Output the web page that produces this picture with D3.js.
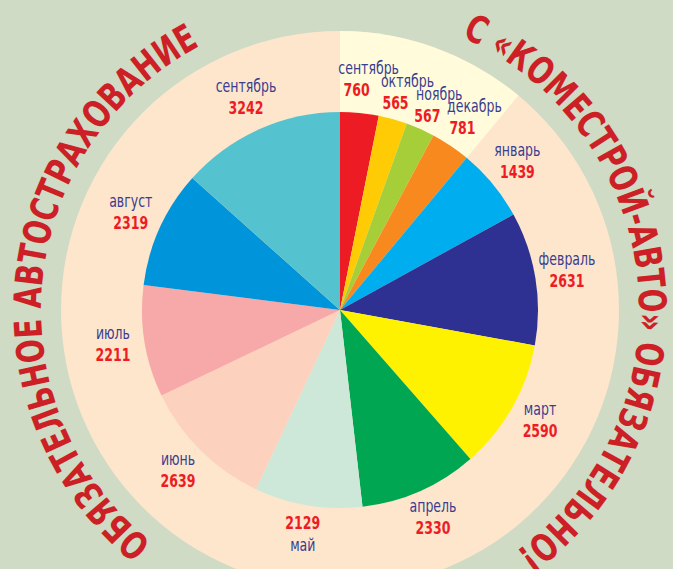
<!DOCTYPE html>
<html>
<head>
<meta charset="utf-8">
<script src="https://cdn.jsdelivr.net/npm/d3@7"></script>
<style>
  body { margin: 0; background: #cfdbc4; }
  svg { display: block; }
  .name { font-family: "Liberation Sans Narrow", "DejaVu Sans Condensed", "Roboto", sans-serif; font-stretch: condensed; font-size: 17px; fill: #3a3d8f; }
  .num { font-family: "Liberation Sans Narrow", "DejaVu Sans Condensed", "Roboto", sans-serif; font-stretch: condensed; font-size: 17px; font-weight: bold; fill: #ed1c24; }
  .title { font-family: "Liberation Sans Narrow", "DejaVu Sans Condensed", "Roboto", sans-serif; font-stretch: condensed; font-size: 38px; font-weight: bold; fill: #cd1f26; }
</style>
</head>
<body>
<div id="chart"></div>
<script>
// months from september to september
var months = ["сентябрь", "октябрь", "ноябрь", "декабрь", "январь", "февраль", "март",
              "апрель", "май", "июнь", "июль", "август", "сентябрь"];
var values = [760, 565, 567, 781, 1439, 2631, 2590, 2330, 2129, 2639, 2211, 2319, 3242];
var colors = ["#ed1c24", "#ffcb05", "#a6ce39", "#f7891f", "#00aeef", "#2e3192", "#fff200",
              "#00a651", "#cde8d8", "#fcd2bf", "#f7a9a9", "#0095da", "#55c3cf"];
var firstYearCount = 4; // сентябрь..декабрь on the pale sector
var leftTitle = "ОБЯЗАТЕЛЬНОЕ  АВТОСТРАХОВАНИЕ";
var rightTitle = "С  «КОМЕСТРОЙ-АВТО»  ОБЯЗАТЕЛЬНО!";

var width = 673, height = 569;
var cx = 340, cy = 310;
var rPie = 198, rRing = 279, rLabel = 230, rTitle = 299;
var squeeze = 0.82; // make labels narrower

var svg = d3.select("#chart")
  .append("svg")
  .attr("width", width)
  .attr("height", height);

var g = svg.append("g").attr("transform", "translate(" + cx + "," + cy + ")");

var data = months.map(function(m, i) { return {month: m, value: values[i], color: colors[i], idx: i}; });

var pie = d3.pie()
  .sort(null)
  .value(function(d) { return d.value; });

var arcs = pie(data);

// background ring
g.append("circle")
  .attr("r", rRing)
  .attr("fill", "#fee6cd");

// pale sector for the first months
g.append("path")
  .attr("d", d3.arc()({innerRadius: 0, outerRadius: rRing, startAngle: 0, endAngle: arcs[firstYearCount - 1].endAngle}))
  .attr("fill", "#fffbdb");

var arc = d3.arc().innerRadius(0).outerRadius(rPie);
var labelArc = d3.arc().innerRadius(rLabel).outerRadius(rLabel);

g.selectAll("path.slice")
  .data(arcs)
  .enter().append("path")
  .attr("class", "slice")
  .attr("d", arc)
  .attr("fill", function(d) { return d.data.color; });

// label layout: name / number offsets from the centroid
function layout(d) {
  var a = (d.startAngle + d.endAngle) / 2;
  var c = labelArc.centroid(d);
  var small = d.data.idx < firstYearCount;
  if (Math.cos(a) < -0.95) {
    return {x: c[0], y: c[1], nx: 0, ny: 14, vx: 0, vy: -8};
  }
  if (small) {
    return {x: c[0], y: c[1], nx: 6, ny: -7, vx: -6, vy: 15};
  }
  return {x: c[0], y: c[1], nx: 0, ny: -8, vx: 0, vy: 14};
}

var labels = g.selectAll("g.label")
  .data(arcs)
  .enter().append("g")
  .attr("class", "label")
  .each(function(d) { d.pos = layout(d); });

var names = labels.append("text")
  .attr("class", "name")
  .attr("text-anchor", "middle")
  .text(function(d) { return d.data.month; });

var nums = labels.append("text")
  .attr("class", "num")
  .attr("text-anchor", "middle")
  .text(function(d) { return d.data.value; });

// push down a label whose name hits the previous one
var placed = [];
names.each(function(d) {
  var p = d.pos;
  var w = this.getComputedTextLength() * squeeze;
  var box = {x0: p.x + p.nx - w / 2, x1: p.x + p.nx + w / 2, y0: p.y + p.ny - 11, y1: p.y + p.ny + 1};
  placed.forEach(function(b) {
    if (box.x0 < b.x1 && box.x1 > b.x0 && box.y0 < b.y1 && box.y1 > b.y0) {
      var shift = b.y1 - box.y0 + 1;
      p.y += shift; box.y0 += shift; box.y1 += shift;
    }
  });
  placed.push(box);
});

labels.attr("transform", function(d) { return "translate(" + d.pos.x + "," + d.pos.y + ")"; });
names.attr("transform", function(d) { return "translate(" + d.pos.nx + "," + d.pos.ny + ") scale(" + squeeze + ",1)"; });
nums.attr("transform", function(d) { return "translate(" + d.pos.vx + "," + d.pos.vy + ") scale(" + squeeze + ",1)"; });

// curved titles
function circlePath(a0, a1, r) {
  var x0 = r * Math.sin(a0), y0 = -r * Math.cos(a0);
  var x1 = r * Math.sin(a1), y1 = -r * Math.cos(a1);
  var large = (a1 - a0) > Math.PI ? 1 : 0;
  return "M" + x0 + "," + y0 + " A" + r + "," + r + " 0 " + large + " 1 " + x1 + "," + y1;
}

var rad = Math.PI / 180;
var titles = [
  {id: "tleft", text: leftTitle, a0: 219 * rad, a1: 332 * rad},
  {id: "tright", text: rightTitle, a0: 24 * rad, a1: 144 * rad}
];

g.selectAll("path.tpath")
  .data(titles)
  .enter().append("path")
  .attr("class", "tpath")
  .attr("id", function(d) { return d.id; })
  .attr("d", function(d) { return circlePath(d.a0, d.a1, rTitle); })
  .attr("fill", "none");

g.selectAll("text.title")
  .data(titles)
  .enter().append("text")
  .attr("class", "title")
  .append("textPath")
  .attr("href", function(d) { return "#" + d.id; })
  .attr("textLength", function(d) { return (d.a1 - d.a0) * rTitle; })
  .attr("lengthAdjust", "spacingAndGlyphs")
  .text(function(d) { return d.text; });
</script>
</body>
</html>
